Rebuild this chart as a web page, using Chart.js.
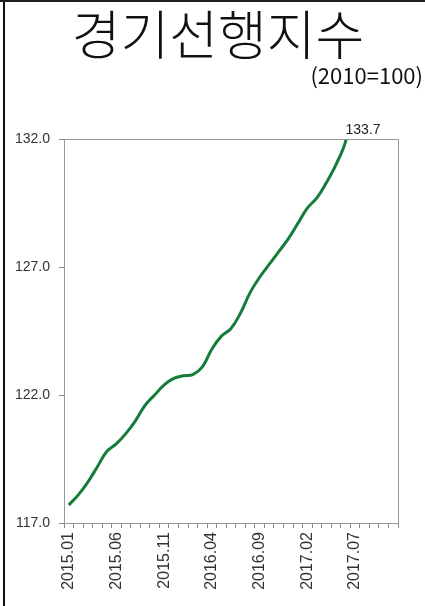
<!DOCTYPE html>
<html>
<head>
<meta charset="utf-8">
<script src="https://cdn.jsdelivr.net/npm/chart.js@4/dist/chart.umd.min.js"></script>
<style>
  body { margin: 0; background: #fff; }
  #wrap { position: relative; width: 425px; height: 606px; overflow: hidden; }
  #frameLeft { position: absolute; left: 3px; top: 0; width: 2px; height: 606px; background: #111; }
  #frameTop { position: absolute; left: 0; top: 0; width: 425px; height: 2px; background: #222; }
  #title { position: absolute; left: 0; top: 0px; width: 436px; text-align: center;
           font-family: "Noto Sans CJK KR", sans-serif; font-size: 53px; font-weight: 300;
           line-height: 64px; color: #111; }
  #unit { position: absolute; right: 2px; top: 58px; font-family: "Noto Sans CJK KR", sans-serif;
          font-size: 22px; line-height: 32px; color: #111; }
  canvas { position: absolute; left: 0; top: 0; }
</style>
</head>
<body>
<div id="wrap">
  <canvas id="chart" width="425" height="606"></canvas>
  <div id="frameLeft"></div>
  <div id="frameTop"></div>
  <div id="title">경기선행지수</div>
  <div id="unit">(2010=100)</div>
</div>
<script>
// Months on the x axis (the axis runs past the last data point)
const months = [
  '2015.01', '2015.02', '2015.03', '2015.04', '2015.05', '2015.06', '2015.07', '2015.08', '2015.09', '2015.10', '2015.11', '2015.12',
  '2016.01', '2016.02', '2016.03', '2016.04', '2016.05', '2016.06', '2016.07', '2016.08', '2016.09', '2016.10', '2016.11', '2016.12',
  '2017.01', '2017.02', '2017.03', '2017.04', '2017.05', '2017.06', '2017.07', '2017.08', '2017.09', '2017.10', '2017.11'
];

// Leading index values
const leadingIndex = [
  117.7, 118.1, 118.6, 119.2, 119.8, 120.1, 120.5, 121.0, 121.6, 122.0, 122.4, 122.65,
  122.75, 122.8, 123.1, 123.8, 124.3, 124.6, 125.2, 126.0, 126.6, 127.1, 127.6, 128.1,
  128.7, 129.3, 129.7, 130.3, 131.0, 131.9, 133.7
];

// Month labels that are shown
const shownLabels = ['2015.01', '2015.06', '2015.11', '2016.04', '2016.09', '2017.02', '2017.07'];

const yTicks = [117, 122, 127, 132];

// Frame round the plot area and the label of the last value
const plotFrame = {
  id: 'plotFrame',
  afterDatasetsDraw(chart) {
    const ctx = chart.ctx;
    const a = chart.chartArea;
    ctx.save();
    ctx.strokeStyle = '#999';
    ctx.lineWidth = 1;
    ctx.beginPath();
    ctx.moveTo(Math.round(a.left) + 0.5, Math.round(a.top) + 0.5);
    ctx.lineTo(Math.round(a.right) + 0.5, Math.round(a.top) + 0.5);
    ctx.lineTo(Math.round(a.right) + 0.5, Math.round(a.bottom) + 0.5);
    ctx.stroke();

    const last = leadingIndex.length - 1;
    const x = chart.scales.x.getPixelForValue(last);
    ctx.fillStyle = '#222';
    ctx.font = '14px "Liberation Sans", Arial, sans-serif';
    ctx.textAlign = 'center';
    ctx.textBaseline = 'bottom';
    ctx.fillText(leadingIndex[last].toFixed(1), x + 8, a.top - 2);
    ctx.restore();
  }
};

const config = {
  type: 'line',
  data: {
    labels: months,
    datasets: [{
      data: leadingIndex,
      borderColor: 'rgb(22, 124, 58)',
      borderWidth: 3,
      pointRadius: 0,
      tension: 0.4,
      fill: false
    }]
  },
  options: {
    responsive: false,
    animation: false,
    layout: { padding: { top: 139, right: 27, left: 0, bottom: 0 } },
    plugins: {
      legend: { display: false },
      tooltip: { enabled: false }
    },
    scales: {
      x: {
        offset: true,
        grid: { offset: true, drawOnChartArea: false, drawTicks: true, tickLength: 5, color: '#888' },
        border: { color: '#999' },
        ticks: {
          autoSkip: false,
          maxRotation: 90,
          minRotation: 90,
          padding: 4,
          color: '#333',
          font: { family: '"Liberation Sans", Arial, sans-serif', size: 16 },
          callback: function (value) {
            const lab = this.getLabelForValue(value);
            return shownLabels.includes(lab) ? lab : '';
          }
        },
        afterFit(scale) { scale.height = 83; }
      },
      y: {
        min: yTicks[0],
        max: yTicks[yTicks.length - 1],
        grid: { drawOnChartArea: false, drawTicks: true, tickLength: 5, color: '#888' },
        border: { color: '#999' },
        afterBuildTicks(scale) { scale.ticks = yTicks.map(v => ({ value: v })); },
        ticks: {
          color: '#333',
          padding: 9,
          font: { family: '"Liberation Sans", Arial, sans-serif', size: 14 },
          callback: v => v.toFixed(1)
        },
        afterFit(scale) { scale.width = 64; }
      }
    }
  },
  plugins: [plotFrame]
};

const leadingChart = new Chart(document.getElementById('chart'), config);
</script>
</body>
</html>
